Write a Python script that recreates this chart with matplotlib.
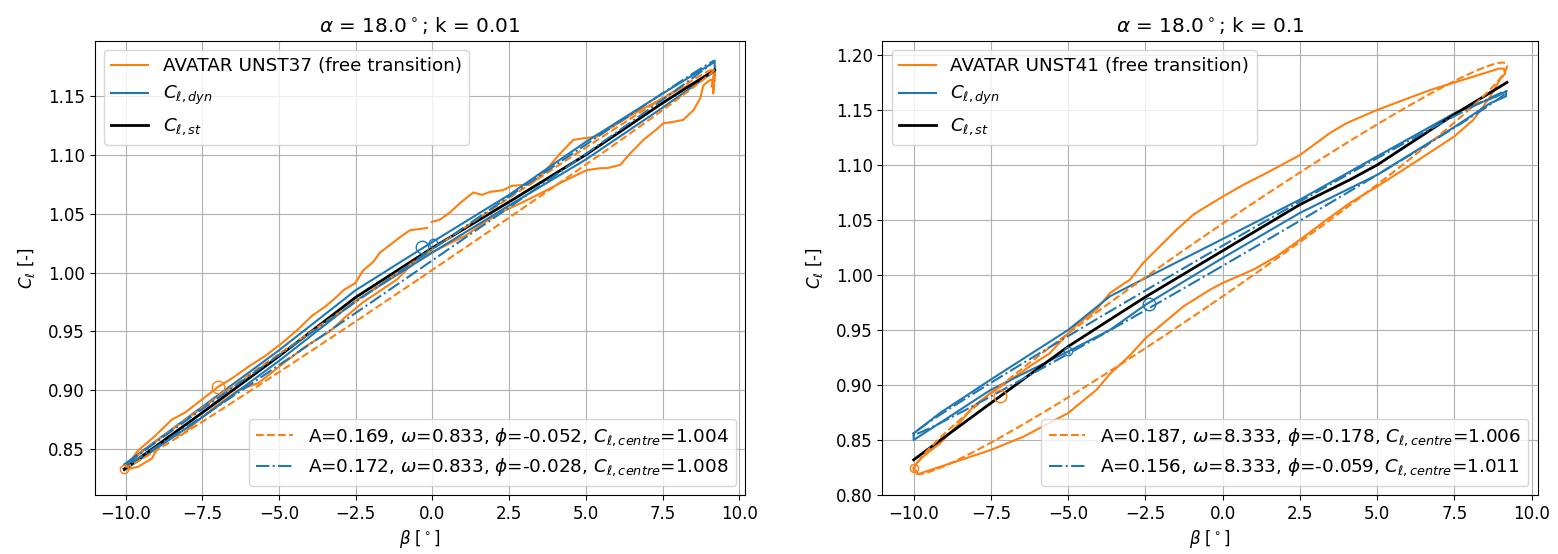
import numpy as np
import matplotlib
matplotlib.use("Agg")
import matplotlib.pyplot as plt

# ---------------- data ----------------
titles = [r"$\alpha$ = 18.0$^\circ$; k = 0.01", r"$\alpha$ = 18.0$^\circ$; k = 0.1"]
exp_labels = ["AVATAR UNST37 (free transition)", "AVATAR UNST41 (free transition)"]

# pitch motion  beta(t) = beta_mean + beta_amp * sin(omega t)
beta_mean = -0.4
beta_amp = 9.6

# fitted sinusoids  Cl(t) = C_centre + A * sin(omega t + phi)
fit_exp = [dict(A=0.169, omega=0.833, phi=-0.052, C=1.004),
           dict(A=0.187, omega=8.333, phi=-0.178, C=1.006)]
fit_dyn = [dict(A=0.172, omega=0.833, phi=-0.028, C=1.008),
           dict(A=0.156, omega=8.333, phi=-0.059, C=1.011)]

# measured lift loop, k = 0.01
exp_beta_1 = [-10.05, -9.59, -9.05, -8.5, -8.07, -7.52, -6.98, -6.54, -6.0, -5.46, -4.91, -4.37,
              -3.94, -3.50, -3.18, -2.90, -2.52, -2.25, -1.93, -1.71, -1.38, -1.06, -0.73, -0.40,
              -0.17, np.nan,
              -0.02, 0.25, 0.57, 0.90, 1.33, 1.61, 1.88, 2.31, 2.58, 2.96, 3.2, 3.51, 3.8, 4.16,
              4.59, 4.92, 5.36, 6.0, 6.5, 7.0, 7.5, 8.0, 8.5, 9.0, 9.2, 9.15, 9.22, 9.1, 9.2,
              9.05, 8.83, 8.73, 8.51, 8.18, 7.85, 7.53, 7.31, 6.88, 6.44, 6.12, 5.68, 5.46, 5.03,
              4.59, 4.16, 3.73, 3.51, 2.96, 2.31, 1.66, 1.12, 0.47, -0.51, -1.16, -1.82, -2.25,
              -2.85, -3.34, -4.15, -4.9, -5.68, -6.33, -7.09, -7.74, -8.17, -8.61, -8.93, -9.15,
              -9.59, -10.02]
exp_cl_1 = [0.833, 0.849, 0.861, 0.875, 0.881, 0.892, 0.903, 0.910, 0.920, 0.929, 0.940, 0.952,
            0.963, 0.971, 0.978, 0.985, 0.991, 1.002, 1.009, 1.017, 1.0235, 1.030, 1.036, 1.037,
            1.038, np.nan,
            1.043, 1.045, 1.051, 1.059, 1.068, 1.066, 1.0685, 1.070, 1.0736, 1.0744, 1.075,
            1.0815, 1.090, 1.101, 1.1127, 1.114, 1.1155, 1.126, 1.134, 1.141, 1.148, 1.155,
            1.161, 1.168, 1.171, 1.152, 1.175, 1.158, 1.163,
            1.1636, 1.159, 1.148, 1.138, 1.1297, 1.128, 1.1268, 1.1217, 1.1127, 1.101, 1.0914,
            1.0886, 1.0886, 1.087, 1.0815, 1.076, 1.070, 1.067, 1.060, 1.052, 1.042, 1.032,
            1.0235, 1.011, 0.994, 0.9825, 0.975, 0.962, 0.950, 0.937, 0.922, 0.906, 0.900,
            0.886, 0.872, 0.862, 0.861, 0.852, 0.842, 0.835, 0.8325]

# measured lift loop, k = 0.1
exp_beta_2 = [-10.0, -9.85, -9.69, -8.61, -7.5, -6.45, -5.0, -4.08, -3.65, -3.0, -2.49, -1.27,
              -0.41, 0.0, 0.99, 1.75, 2.5, 3.37, 4.12, 5.0, 6.17, 7.5, 8.11, 8.43, 8.65, 8.97,
              9.14, 9.1, 8.92, 8.65, 7.79, 6.71, 6.17, 5.0, 4.01, 3.47, 2.5, 1.42, 0.67, 0.02,
              -0.52, -0.95, -1.49, -2.57, -3.0, -3.65, -4.08, -4.72, -5.0, -5.59, -6.24, -6.99,
              -7.5, -8.07, -8.61, -9.15, -9.69, -9.9, -10.0]
exp_cl_2 = [0.8245, 0.819, 0.8206, 0.8306, 0.841, 0.853, 0.8745, 0.8957, 0.910, 0.927, 0.9427,
            0.9715, 0.9866, 0.9927, 1.0048, 1.017, 1.032, 1.0503, 1.0655, 1.0805, 1.1015, 1.126,
            1.141, 1.153, 1.162, 1.1775, 1.183, 1.1875, 1.1875, 1.185, 1.1775, 1.168, 1.1624,
            1.150, 1.138, 1.129, 1.109, 1.0927, 1.082, 1.0715, 1.0624, 1.0548, 1.0412, 1.011,
            0.9957, 0.9836, 0.9685, 0.9548, 0.947, 0.929, 0.917, 0.902, 0.893, 0.8805, 0.8624,
            0.847, 0.835, 0.829, 0.8245]

# dynamic model loops
dyn_beta_1 = [-10.05, -7.5, -5.0, -2.5, 0.0, 2.5, 5.0, 7.5, 9.2, 9.2, 7.5, 5.0, 2.5, 0.0, -2.5,
              -5.0, -7.5, -10.05]
dyn_cl_1 = [0.837, 0.886, 0.934, 0.985, 1.026, 1.066, 1.111, 1.152, 1.179, 1.171, 1.140, 1.096,
            1.057, 1.017, 0.976, 0.925, 0.877, 0.832]
dyn_beta_2 = [-10.0, -9.15, -7.5, -5.0, -3.65, -2.49, 0.0, 2.5, 5.0, 7.5, 8.87, 9.17,
              9.17, 8.65, 7.5, 5.0, 2.5, 0.0, -2.49, -3.65, -5.0, -7.5, -9.15, -10.0,
              -10.0]
dyn_cl_2 = [0.856, 0.8745, 0.905, 0.950, 0.9806, 0.9973, 1.0327, 1.0685, 1.1078,
            1.147, 1.1624, 1.167, 1.1624, 1.156, 1.1345, 1.091, 1.0564, 1.0155,
            0.973, 0.950, 0.9305, 0.8957, 0.8655, 0.850, 0.856]

# static polar
st_beta_1 = [-10.05, -7.5, -5.0, -2.5, 0.0, 2.5, 5.0, 7.5, 9.2]
st_cl_1 = [0.833, 0.881, 0.929, 0.979, 1.021, 1.060, 1.100, 1.144, 1.172]
st_beta_2 = [-10.0, -7.5, -5.0, -3.65, -2.5, 0.0, 2.5, 4.12, 5.0, 7.5, 9.2]
st_cl_2 = [0.832, 0.8836, 0.935, 0.9594, 0.980, 1.022, 1.064, 1.0866, 1.100, 1.146, 1.175]

# start markers (beta, Cl)
mark_exp_small = [(-10.05, 0.833), (-10.0, 0.8245)]
mark_exp_large = [(-6.98, 0.903), (-7.2, 0.8897)]
mark_dyn_small = [(0.03, 1.025), (-5.0, 0.9305)]
mark_dyn_large = [(-0.35, 1.0216), (-2.38, 0.974)]

xticks = np.arange(-10.0, 10.01, 2.5)
yticks = [np.arange(0.85, 1.151, 0.05), np.arange(0.80, 1.201, 0.05)]
ylims = [(0.811, 1.197), (0.800, 1.213)]

# ---------------- figure ----------------
plt.rcParams["font.size"] = 12
ORANGE = "#ff7f0e"
BLUE = "#1f77b4"

fig = plt.figure(figsize=(15.58, 5.54), dpi=100)
axes = [fig.add_axes([0.0608, 0.1065, 0.4174, 0.8202]),
        fig.add_axes([0.5664, 0.1065, 0.4205, 0.8202])]

exps = [(exp_beta_1, exp_cl_1), (exp_beta_2, exp_cl_2)]
dyns = [(dyn_beta_1, dyn_cl_1), (dyn_beta_2, dyn_cl_2)]
sts = [(st_beta_1, st_cl_1), (st_beta_2, st_cl_2)]

for i, ax in enumerate(axes):
    h_exp, = ax.plot(*exps[i], color=ORANGE, lw=1.5, label=exp_labels[i])
    h_dyn, = ax.plot(*dyns[i], color=BLUE, lw=1.5, label=r"$C_{\ell,dyn}$")
    h_st, = ax.plot(*sts[i], color="k", lw=2.0, label=r"$C_{\ell,st}$")

    handles_fit = []
    for fit, col, ls in ((fit_exp[i], ORANGE, "--"), (fit_dyn[i], BLUE, "-.")):
        t = np.linspace(0.0, 2 * np.pi / fit["omega"], 400)
        beta = beta_mean + beta_amp * np.sin(fit["omega"] * t)
        cl = fit["C"] + fit["A"] * np.sin(fit["omega"] * t + fit["phi"])
        lab = (f"A={fit['A']:.3f}, $\\omega$={fit['omega']:.3f}, "
               f"$\\phi$={fit['phi']:.3f}, $C_{{\\ell,centre}}$={fit['C']:.3f}")
        h, = ax.plot(beta, cl, color=col, ls=ls, lw=1.5, label=lab)
        handles_fit.append(h)

    ax.plot(*mark_exp_small[i], "o", mfc="none", mec=ORANGE, ms=6)
    ax.plot(*mark_exp_large[i], "o", mfc="none", mec=ORANGE, ms=9)
    ax.plot(*mark_dyn_small[i], "o", mfc="none", mec=BLUE, ms=6)
    ax.plot(*mark_dyn_large[i], "o", mfc="none", mec=BLUE, ms=9)

    ax.set_xlim(-11.01, 10.19)
    ax.set_ylim(*ylims[i])
    ax.set_xticks(xticks)
    ax.set_yticks(yticks[i])
    ax.grid(True)
    ax.set_axisbelow(True)
    ax.set_title(titles[i])
    ax.set_xlabel(r"$\beta$ [$^\circ$]")
    ax.set_ylabel(r"$C_\ell$ [-]", labelpad=8)

    leg1 = ax.legend(handles=[h_exp, h_dyn, h_st], loc="upper left", fontsize=13.2)
    ax.add_artist(leg1)
    ax.legend(handles=handles_fit, loc="lower right", fontsize=13.2)

fig.savefig("out.png", dpi=100)
